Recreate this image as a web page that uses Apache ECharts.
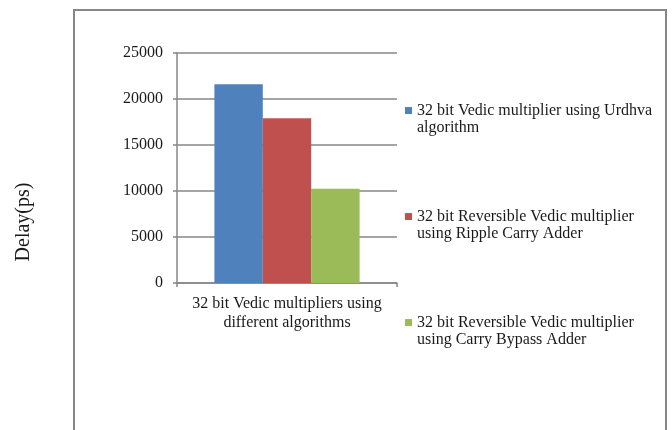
<!DOCTYPE html>
<html>
<head>
<meta charset="utf-8">
<script src="https://cdn.jsdelivr.net/npm/echarts@6/dist/echarts.min.js"></script>
<style>
  html, body { margin: 0; padding: 0; background: #fff; }
  #chart { width: 672px; height: 430px; }
</style>
</head>
<body>
<div id="chart"></div>
<script>
// Delay comparison of 32-bit Vedic multiplier designs
const categories = ['32 bit Vedic multipliers using\ndifferent algorithms'];
const seriesNames = [
  '32 bit Vedic multiplier using Urdhva algorithm',
  '32 bit Reversible Vedic multiplier using Ripple Carry Adder',
  '32 bit Reversible Vedic multiplier using Carry Bypass Adder'
];
const legendLabels = [
  '32 bit Vedic multiplier using Urdhva\nalgorithm',
  '32 bit Reversible Vedic multiplier\nusing Ripple Carry Adder',
  '32 bit Reversible Vedic multiplier\nusing Carry Bypass Adder'
];
const urdhvaDelay = [21600];
const rippleCarryDelay = [17900];
const carryBypassDelay = [10250];
const seriesValues = [urdhvaDelay, rippleCarryDelay, carryBypassDelay];
const seriesColors = ['#4F81BD', '#C0504D', '#9BBB59'];
const yTicks = { min: 0, max: 25000, interval: 5000 };

const FONT = '"Liberation Serif", "Times New Roman", serif';
const GRAY = '#878787';
const INK = '#1a1a1a';

const chart = echarts.init(document.getElementById('chart'), null, { renderer: 'canvas' });

chart.setOption({
  animation: false,
  backgroundColor: '#ffffff',
  textStyle: { fontFamily: FONT },
  grid: { left: 177, right: 275, top: 53, bottom: 147, containLabel: false },
  legend: {
    orient: 'vertical',
    left: 405,
    top: 84,
    padding: 0,
    itemWidth: 7,
    itemHeight: 7,
    itemGap: 52.9,
    icon: 'rect',
    data: seriesNames,
    // a leading blank line keeps the first text line level with the swatch
    formatter: name => '\n' + legendLabels[seriesNames.indexOf(name)],
    textStyle: {
      fontFamily: FONT,
      fontSize: 16,
      color: INK,
      lineHeight: 17.7
    }
  },
  xAxis: {
    type: 'category',
    data: categories,
    axisLine: { lineStyle: { color: GRAY, width: 1.5 } },
    axisTick: { show: true, length: 4, alignWithLabel: false, lineStyle: { color: GRAY, width: 1.5 } },
    axisLabel: {
      fontFamily: FONT,
      fontSize: 16,
      color: INK,
      lineHeight: 19,
      margin: 11
    }
  },
  yAxis: {
    type: 'value',
    min: yTicks.min,
    max: yTicks.max,
    interval: yTicks.interval,
    axisLine: { show: true, lineStyle: { color: GRAY, width: 1.5 } },
    axisTick: { show: true, length: 4, lineStyle: { color: GRAY, width: 1.5 } },
    splitLine: { show: true, lineStyle: { color: GRAY, width: 1.5 } },
    axisLabel: {
      fontFamily: FONT,
      fontSize: 16,
      color: INK,
      margin: 14,
      formatter: v => String(v)
    }
  },
  series: seriesNames.map((name, i) => ({
    name: name,
    type: 'bar',
    data: seriesValues[i],
    barGap: '0%',
    barCategoryGap: '34%',
    itemStyle: { color: seriesColors[i] }
  })),
  graphic: [
    {
      type: 'rect',
      shape: { x: 74, y: 10, width: 592, height: 440 },
      style: { fill: null, stroke: GRAY, lineWidth: 2 },
      silent: true,
      z: -1
    },
    {
      type: 'text',
      x: 24,
      y: 222,
      rotation: Math.PI / 2,
      style: {
        text: 'Delay(ps)',
        font: '20px ' + FONT,
        fill: INK,
        align: 'center',
        verticalAlign: 'middle'
      }
    }
  ]
});
</script>
</body>
</html>
